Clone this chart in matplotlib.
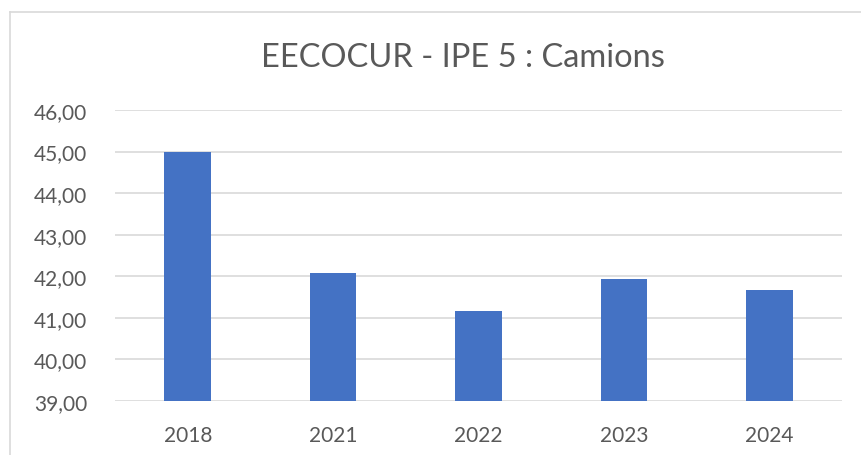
import matplotlib as mpl
mpl.use('Agg')
import matplotlib.pyplot as plt
from matplotlib.ticker import FuncFormatter, MultipleLocator
from matplotlib.lines import Line2D

years = ['2018', '2021', '2022', '2023', '2024']
values = [45.00, 42.09, 41.16, 41.94, 41.66]
title = 'EECOCUR - IPE 5 : Camions'

W, H = 861, 456
plt.rcParams['font.family'] = ['Lato', 'DejaVu Sans']

fig = plt.figure(figsize=(W / 100, H / 100), dpi=100)
ax = fig.add_axes([115 / W, 1 - 402 / H, (842 - 115) / W, (402 - 111) / H])

x = range(len(years))
ax.bar(x, values, width=0.32, color='#4472C4', zorder=3)

ax.set_ylim(39, 46)
ax.set_xlim(-0.5, len(years) - 0.5)
ax.yaxis.set_major_locator(MultipleLocator(1))
ax.yaxis.set_major_formatter(FuncFormatter(lambda v, p: f'{v:.2f}'.replace('.', ',')))
ax.set_xticks(list(x))
ax.set_xticklabels(years)
ax.grid(axis='y', color='#D9D9D9', linewidth=1.2, zorder=0)
ax.tick_params(axis='both', length=0, labelsize=15, colors='#595959')
ax.tick_params(axis='x', pad=17)
ax.tick_params(axis='y', pad=20)
for s in ax.spines.values():
    s.set_visible(False)

fig.text(463 / W, 1 - 58 / H, title, ha='center', va='center', fontsize=23.5, color='#595959')

# chart frame (only left and top edges visible in the crop)
fig.add_artist(Line2D([10 / W, 10 / W], [0, 1 - 13 / H], color='#D9D9D9', linewidth=1.2))
fig.add_artist(Line2D([10 / W, 1], [1 - 13 / H, 1 - 13 / H], color='#D9D9D9', linewidth=1.2))

fig.savefig('out.png', dpi=100)
